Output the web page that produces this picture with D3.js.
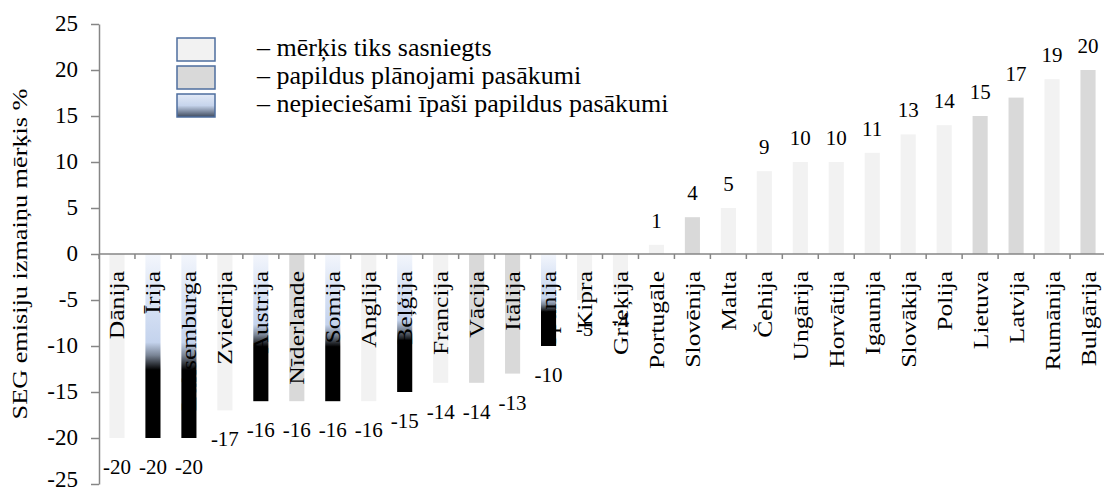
<!DOCTYPE html>
<html>
<head>
<meta charset="utf-8">
<script src="https://cdn.jsdelivr.net/npm/d3@7"></script>
<style>
  body { margin: 0; background: #fff; }
  text { font-family: "Liberation Serif", "Times New Roman", serif; fill: #000; }
</style>
</head>
<body>
<div id="chart"></div>
<script>
// Chart data
const countries = ["Dānija", "Īrija", "Luksemburga", "Zviedrija", "Austrija", "Nīderlande", "Somija",
    "Anglija", "Beļģija", "Francija", "Vācija", "Itālija", "Spānija", "Kipra", "Grieķija", "Portugāle",
    "Slovēnija", "Malta", "Čehija", "Ungārija", "Horvātija", "Igaunija", "Slovākija", "Polija",
    "Lietuva", "Latvija", "Rumānija", "Bulgārija"];
const values = [-20, -20, -20, -17, -16, -16, -16, -16, -15, -14, -14, -13, -10, -5, -4, 1,
    4, 5, 9, 10, 10, 11, 13, 14, 15, 17, 19, 20];
// ok = target reached, plan = extra measures planned, need = special extra measures needed
const status = ["ok", "need", "need", "ok", "need", "plan", "need", "ok", "need", "ok", "plan", "plan",
    "need", "ok", "ok", "ok", "plan", "ok", "ok", "ok", "ok", "ok", "ok", "ok", "plan", "plan", "ok", "plan"];
const yTicks = [25, 20, 15, 10, 5, 0, -5, -10, -15, -20, -25];
const legendKeys = ["ok", "plan", "need"];
const legendLabels = ["– mērķis tiks sasniegts", "– papildus plānojami pasākumi",
    "– nepieciešami īpaši papildus pasākumi"];
const yTitle = "SEG emisiju izmaiņu mērķis %";

const width = 1104, height = 493;
const axisColor = "#868686";

const svg = d3.select("#chart").append("svg")
    .attr("width", width)
    .attr("height", height);

// gradients
const defs = svg.append("defs");
const g1 = defs.append("linearGradient").attr("id", "needGrad")
    .attr("x1", 0).attr("y1", 0).attr("x2", 0).attr("y2", 1);
[[0, "#f3f6fc"], [0.25, "#d9e3f5"], [0.48, "#c4d3ed"], [0.55, "#7a8596"], [0.63, "#000"], [1, "#000"]]
    .forEach(s => g1.append("stop").attr("offset", s[0]).attr("stop-color", s[1]));
const g2 = defs.append("linearGradient").attr("id", "legGrad")
    .attr("x1", 0).attr("y1", 0).attr("x2", 0).attr("y2", 1);
[[0, "#e3eaf7"], [0.5, "#c6d4ec"], [1, "#3e4a5e"]]
    .forEach(s => g2.append("stop").attr("offset", s[0]).attr("stop-color", s[1]));

const fills = {ok: "#f2f2f2", plan: "#d9d9d9", need: "url(#needGrad)"};
const legendFills = {ok: "#f2f2f2", plan: "#d9d9d9", need: "url(#legGrad)"};

const data = countries.map((c, i) => ({name: c, value: values[i], status: status[i]}));

// scales
const x = d3.scaleBand()
    .domain(countries)
    .range([99, 1106])
    .paddingInner(0.58)
    .paddingOuter(0.29);

const y = d3.scaleLinear()
    .domain([-25, 25])
    .range([484, 24]);

// bars
svg.append("g")
    .selectAll("rect")
    .data(data)
    .enter()
    .append("rect")
        .attr("x", d => x(d.name))
        .attr("width", x.bandwidth())
        .attr("y", d => y(Math.max(0, d.value)))
        .attr("height", d => Math.abs(y(d.value) - y(0)))
        .style("fill", d => fills[d.status]);

// category labels (rotated, drawn over the bars)
svg.append("g")
    .selectAll("text")
    .data(data)
    .enter()
    .append("text")
        .attr("transform", d => `translate(${x(d.name) + x.bandwidth() / 2 + 7.5}, ${y(0) + 17}) rotate(-90) scale(1.28, 1)`)
        .attr("text-anchor", "end")
        .style("font-size", "20px")
        .text(d => d.name);

// value labels
svg.append("g")
    .selectAll("text")
    .data(data)
    .enter()
    .append("text")
        .attr("x", d => x(d.name) + x.bandwidth() / 2)
        .attr("y", d => d.value >= 0 ? y(d.value) - 17 : y(d.value) + 36)
        .attr("text-anchor", "middle")
        .style("font-size", "21px")
        .text(d => String(d.value));

// y axis
const yAxis = svg.append("g")
    .attr("transform", "translate(99, 0)")
    .call(d3.axisLeft(y).tickValues(yTicks).tickSize(8).tickSizeOuter(0).tickPadding(13)
        .tickFormat(d => String(d)));
yAxis.select(".domain").attr("stroke", axisColor).attr("stroke-width", 1.5);
yAxis.selectAll(".tick line").attr("stroke", axisColor).attr("stroke-width", 1.5);
yAxis.selectAll(".tick text")
    .style("font-family", "'Liberation Serif', 'Times New Roman', serif")
    .style("font-size", "23px")
    .attr("dy", d => d === -25 ? "0.12em" : "0.3em")
    .attr("fill", "#000");

// zero line with category separators
const zeroY = y(0);
svg.append("line")
    .attr("x1", 99).attr("x2", width)
    .attr("y1", zeroY).attr("y2", zeroY)
    .attr("stroke", axisColor).attr("stroke-width", 1.5);
svg.append("g")
    .selectAll("line")
    .data(d3.range(countries.length + 1))
    .enter()
    .append("line")
        .attr("x1", i => 99 + i * x.step())
        .attr("x2", i => 99 + i * x.step())
        .attr("y1", zeroY)
        .attr("y2", zeroY + 5)
        .attr("stroke", axisColor)
        .attr("stroke-width", 1.5);

// y axis title
svg.append("text")
    .attr("transform", `translate(27, ${y(0)}) rotate(-90) scale(1.25, 1)`)
    .attr("text-anchor", "middle")
    .style("font-size", "21px")
    .text(yTitle);

// legend
const legend = svg.append("g")
    .selectAll("g")
    .data(legendKeys)
    .enter()
    .append("g")
        .attr("transform", (d, i) => `translate(177, ${38 + i * 28})`);
legend.append("rect")
    .attr("width", 38)
    .attr("height", 23)
    .style("fill", d => legendFills[d])
    .style("stroke", "#4e6e9e")
    .style("stroke-width", 1.5);
legend.append("text")
    .attr("x", 80)
    .attr("y", 18)
    .style("font-size", "26px")
    .text((d, i) => legendLabels[i]);
</script>
</body>
</html>
